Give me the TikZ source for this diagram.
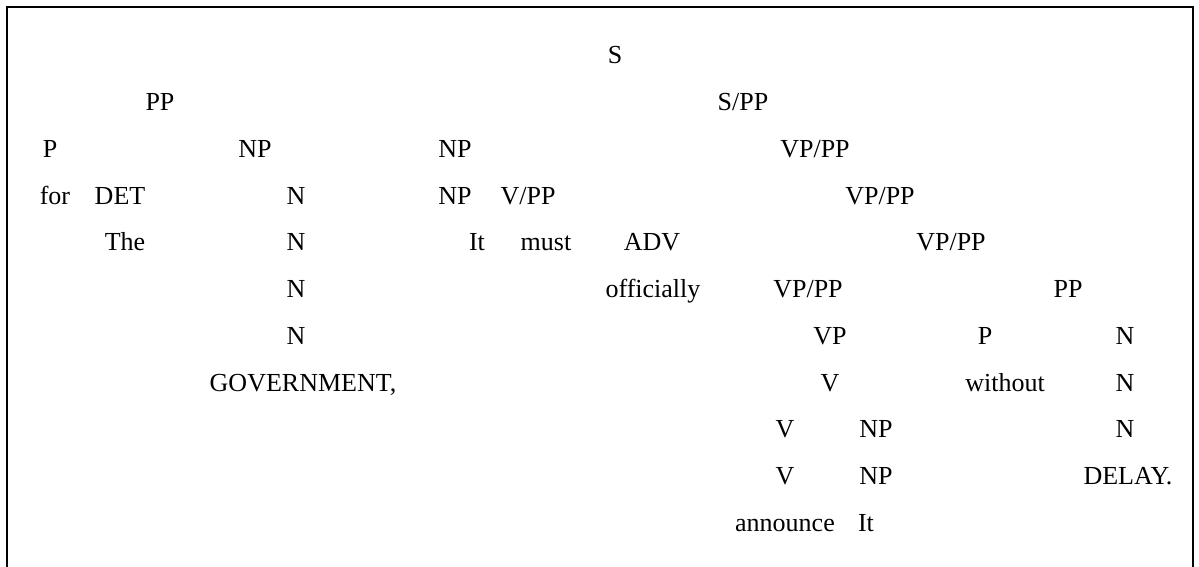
\documentclass[tikz,border=0pt]{standalone}
\usepackage{fontspec}
\setmainfont{Liberation Serif}
\newcommand{\lblfont}{\fontsize{26}{30}\selectfont}
\begin{document}
\begin{tikzpicture}[x=1pt,y=-1pt,
  lab/.style={anchor=base,inner sep=0pt,font=\lblfont},
  frame/.style={line width=2.5pt}]
\useasboundingbox (0,0) rectangle (1199,567);
\coordinate (fbl) at (7,567);
\coordinate (ftl) at (7,7);
\coordinate (ftr) at (1193,7);
\coordinate (fbr) at (1193,567);
\draw[frame] (fbl) -- (ftl) -- (ftr) -- (fbr);
% row 1
\node[lab] (s) at (615,64) {S};
% row 2
\node[lab] (pp1) at (160,110.7) {PP};
\node[lab] (spp) at (743,110.7) {S/PP};
% row 3
\node[lab] (p1) at (50,157.4) {P};
\node[lab] (np1) at (255,157.4) {NP};
\node[lab] (np2) at (455,157.4) {NP};
\node[lab] (vpp1) at (815,157.4) {VP/PP};
% row 4
\node[lab] (for) at (55,204) {for};
\node[lab] (det) at (120,204) {DET};
\node[lab] (n1) at (296,204) {N};
\node[lab] (np3) at (455,204) {NP};
\node[lab] (vslpp) at (528,204) {V/PP};
\node[lab] (vpp2) at (880,204) {VP/PP};
% row 5
\node[lab] (the) at (125,250.8) {The};
\node[lab] (n2) at (296,250.8) {N};
\node[lab] (it1) at (477,250.8) {It};
\node[lab] (must) at (546,250.8) {must};
\node[lab] (adv) at (652,250.8) {ADV};
\node[lab] (vpp3) at (951,250.8) {VP/PP};
% row 6
\node[lab] (n3) at (296,297.5) {N};
\node[lab] (off) at (653,297.5) {officially};
\node[lab] (vpp4) at (808,297.5) {VP/PP};
\node[lab] (pp2) at (1068,297.5) {PP};
% row 7
\node[lab] (n4) at (296,344.2) {N};
\node[lab] (vp) at (830,344.2) {VP};
\node[lab] (p2) at (985,344.2) {P};
\node[lab] (n5) at (1125,344.2) {N};
% row 8
\node[lab] (gov) at (303,391) {GOVERNMENT,};
\node[lab] (v1) at (830,391) {V};
\node[lab] (without) at (1005,391) {without};
\node[lab] (n6) at (1125,391) {N};
% row 9
\node[lab] (v2) at (785,437.6) {V};
\node[lab] (np4) at (876,437.6) {NP};
\node[lab] (n7) at (1125,437.6) {N};
% row 10
\node[lab] (v3) at (785,484.3) {V};
\node[lab] (np5) at (876,484.3) {NP};
\node[lab] (delay) at (1128,484.3) {DELAY.};
% row 11
\node[lab] (announce) at (785,531) {announce};
\node[lab] (it2) at (866,531) {It};
\end{tikzpicture}
\end{document}
